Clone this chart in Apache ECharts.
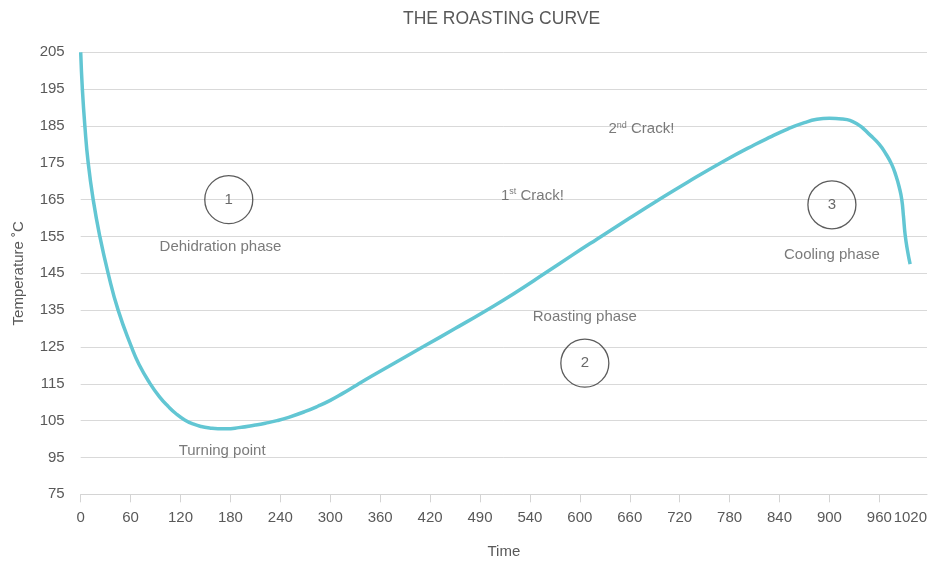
<!DOCTYPE html>
<html>
<head>
<meta charset="utf-8">
<script src="https://cdn.jsdelivr.net/npm/echarts@6/dist/echarts.min.js"></script>
<style>html,body{margin:0;padding:0;background:#fff}#chart{width:933px;height:561px}</style>
</head>
<body>
<div id="chart"></div>
<script>
// Curve samples (time in s, temperature in °C)
const times = [0, 2, 5, 9, 15, 23, 33, 45, 61, 70, 83, 95, 105, 115, 125, 135, 145, 155, 165, 175, 190, 210, 222, 236, 250, 270, 285, 300, 315, 332, 350, 370, 390, 412, 450, 488, 520, 558, 590, 620, 660, 693, 730, 775, 810, 830, 851, 870, 885, 900, 915, 933, 950, 960, 968, 975, 980, 984, 987, 989, 991, 994, 997];
const temps = [205, 195, 185, 175, 165, 155, 145, 135, 125, 120.3, 115.2, 111.4, 108.9, 106.8, 105.2, 104.1, 103.4, 103.0, 102.8, 102.8, 103.1, 103.8, 104.3, 105.0, 105.9, 107.5, 108.9, 110.5, 112.4, 114.7, 117.1, 119.7, 122.3, 125.1, 130, 135, 139.4, 145, 149.8, 154.2, 160.0, 164.7, 169.8, 175.7, 179.9, 182.1, 184.3, 185.9, 186.8, 187.1, 186.9, 185.6, 182.3, 180.0, 177.4, 174.5, 171.5, 168.3, 165.0, 160.5, 155.5, 151.0, 147.5];

// Axis ticks
const xTickValues = [0, 60, 120, 180, 240, 300, 360, 420, 480, 540, 600, 660, 720, 780, 840, 900, 960, 1017.3];
const xTickLabels = ['0', '60', '120', '180', '240', '300', '360', '420', '490', '540', '600', '660', '720', '780', '840', '900', '960', '1020'];
const yTickValues = [85, 95, 105, 115, 125, 135, 145, 155, 165, 175, 185, 195, 205];
const yTickLabels = ['75', '95', '105', '115', '125', '135', '145', '155', '165', '175', '185', '195', '205'];

// Annotations
const circleLabels = ['1', '2', '3'];
const circleTimes = [178, 606, 903];
const circleTemps = [165, 120.6, 163.6];
const noteTexts = ['Dehidration phase', 'Turning point', '{n|1}{s|st}{n| Crack!}', '{n|2}{s|nd}{n| Crack!}', 'Roasting phase', 'Cooling phase'];
const noteTimes = [168, 170, 543, 674, 606, 903];
const noteTemps = [152.2, 96.8, 166.1, 184.1, 133.1, 150];

const FONT = 'Liberation Sans';
const GREY = '#595959';
const xMax = xTickValues[xTickValues.length - 1];

const chart = echarts.init(document.getElementById('chart'), null, {renderer: 'canvas'});
chart.setOption({
  animation: false,
  backgroundColor: '#fff',
  title: {
    text: 'THE ROASTING CURVE',
    left: 398, top: 5,
    textStyle: {fontFamily: FONT, fontSize: 17.5, fontWeight: 'normal', color: GREY}
  },
  grid: {left: 80.7, right: 6, top: 52.3, bottom: 66.7, containLabel: false, outerBoundsMode: 'none'},
  xAxis: {
    type: 'value', min: 0, max: xMax,
    name: 'Time', nameLocation: 'middle', nameGap: 50,
    nameTextStyle: {fontFamily: FONT, fontSize: 15, color: GREY},
    axisLine: {show: true, lineStyle: {color: '#d4d4d4', width: 1}},
    axisTick: {show: true, length: 8, lineStyle: {color: '#d4d4d4'}, customValues: xTickValues.slice(0, -1)},
    axisLabel: {
      fontFamily: FONT, fontSize: 15, color: GREY, margin: 16,
      customValues: xTickValues, showMaxLabel: true, showMinLabel: true, hideOverlap: false,
      alignMaxLabel: 'right',
      formatter: v => xTickLabels[xTickValues.indexOf(v)]
    },
    splitLine: {show: false}
  },
  yAxis: {
    type: 'value', min: 85, max: 205, interval: 10,
    name: 'Temperature ˚C', nameLocation: 'middle', nameGap: 54, nameRotate: 90,
    nameTextStyle: {fontFamily: FONT, fontSize: 15, color: GREY},
    axisLine: {show: false}, axisTick: {show: false},
    axisLabel: {
      fontFamily: FONT, fontSize: 15, color: GREY, margin: 16,
      formatter: v => yTickLabels[yTickValues.indexOf(v)]
    },
    splitLine: {lineStyle: {color: '#d9d9d9', width: 1}}
  },
  series: [
    {
      type: 'line', data: times.map((t, i) => [t, temps[i]]),
      smooth: 0.5, showSymbol: false,
      lineStyle: {color: '#62c6d3', width: 3.5}, z: 3
    },
    {
      type: 'scatter', symbol: 'circle', symbolSize: 48,
      data: circleTimes.map((t, i) => [t, circleTemps[i]]),
      itemStyle: {color: 'rgba(255,255,255,0)', borderColor: '#333', borderWidth: 1.3},
      label: {show: true, position: 'inside', fontFamily: FONT, fontSize: 15, color: '#444',
        formatter: p => circleLabels[p.dataIndex]},
      emphasis: {disabled: true}, z: 4
    },
    {
      type: 'scatter', symbolSize: 0,
      data: noteTimes.map((t, i) => [t, noteTemps[i]]),
      label: {
        show: true, position: 'inside', fontFamily: FONT, fontSize: 15, color: GREY,
        formatter: p => noteTexts[p.dataIndex],
        rich: {
          n: {fontFamily: FONT, fontSize: 15, color: GREY},
          s: {fontFamily: FONT, fontSize: 9, color: GREY, verticalAlign: 'top', padding: [0, 0, 8, 0]}
        }
      },
      emphasis: {disabled: true}, z: 4
    }
  ]
});
</script>
</body>
</html>
